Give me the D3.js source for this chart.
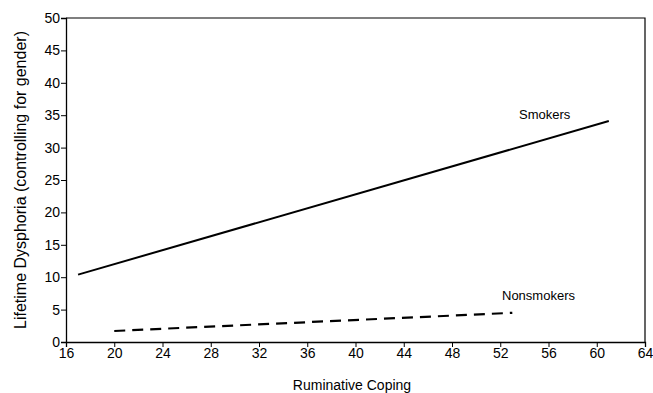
<!DOCTYPE html>
<html>
<head>
<meta charset="utf-8">
<script src="https://cdn.jsdelivr.net/npm/d3@7"></script>
<style>
  body { margin: 0; background: #fff; }
  text { font-family: "Liberation Sans", Arial, sans-serif; fill: #000; }
</style>
</head>
<body>
<div id="container"></div>
<script>
'use strict'
// data
const xTicks = [16, 20, 24, 28, 32, 36, 40, 44, 48, 52, 56, 60, 64];
const yTicks = [0, 5, 10, 15, 20, 25, 30, 35, 40, 45, 50];
const smokersX = [17.0, 61];
const smokersY = [10.4, 34.1];
const nonsmokersX = [20.0, 53.0];
const nonsmokersY = [1.7, 4.5];

const w = 653, h = 393;
const padL = 66, padR = 645, padT = 18, padB = 342;

const svg = d3.select("#container").append("svg")
    .attr("width", w).attr("height", h);

//Scales
const x = d3.scaleLinear().domain([16, 64]).range([padL, padR]);
const y = d3.scaleLinear().domain([0, 50]).range([padB, padT]);

//Frame (top and right)
svg.append("path")
   .attr("d", "M" + padL + "," + padT + "H" + padR + "V" + padB)
   .attr("fill", "none").attr("stroke", "#000").attr("stroke-width", 1.2);

//Axes
const xAxis = d3.axisBottom(x).tickValues(xTicks).tickSize(5).tickPadding(1);
const gx = svg.append("g").attr("transform", "translate(0," + padB + ")").call(xAxis);
const yAxis = d3.axisLeft(y).tickValues(yTicks).tickSize(5).tickPadding(1);
const gy = svg.append("g").attr("transform", "translate(" + padL + ",0)").call(yAxis);
[gx, gy].forEach(g => {
  g.select(".domain").attr("stroke-width", 1.3);
  g.selectAll(".tick line").attr("stroke-width", 1);
  g.selectAll("text").style("font-family", "Liberation Sans, Arial, sans-serif")
   .style("font-size", "14px").attr("fill", "#000");
});

//Lines
const line = d3.line().x(d => x(d[0])).y(d => y(d[1]));
svg.append("path")
   .datum(smokersX.map((v, i) => [v, smokersY[i]]))
   .attr("d", line).attr("fill", "none").attr("stroke", "#000").attr("stroke-width", 2);
svg.append("path")
   .datum(nonsmokersX.map((v, i) => [v, nonsmokersY[i]]))
   .attr("d", line).attr("fill", "none").attr("stroke", "#000")
   .attr("stroke-width", 2.2).attr("stroke-dasharray", "11,7");

//Labels
svg.append("text").text("Smokers").attr("x", 519).attr("y", 119).style("font-size", "13px");
svg.append("text").text("Nonsmokers").attr("x", 502).attr("y", 300).style("font-size", "13px");

svg.append("text").text("Ruminative Coping")
   .attr("x", 352).attr("y", 390).attr("text-anchor", "middle").style("font-size", "14px");
svg.append("text").text("Lifetime Dysphoria (controlling for gender)")
   .attr("transform", "translate(26,180) rotate(-90)")
   .attr("text-anchor", "middle").style("font-size", "16px");
</script>
</body>
</html>
